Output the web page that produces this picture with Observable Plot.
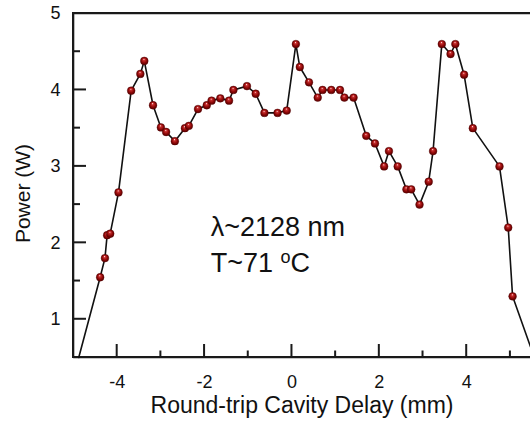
<!DOCTYPE html>
<html>
<head>
<meta charset="utf-8">
<script src="https://cdn.jsdelivr.net/npm/d3@7"></script>
<script src="https://cdn.jsdelivr.net/npm/@observablehq/plot@0.6"></script>
<style>
  html, body { margin: 0; padding: 0; background: #fff; }
  svg { display: block; }
</style>
</head>
<body>
<div id="chart"></div>
<script>
// Measured points: round-trip cavity delay (mm) and output power (W)
const delay = [-4.39, -4.28, -4.23, -4.16, -3.97, -3.68, -3.47, -3.38, -3.18, -3.00, -2.88, -2.68, -2.45, -2.36,
  -2.15, -1.95, -1.84, -1.64, -1.44, -1.34, -1.03, -0.83, -0.63, -0.33, -0.12, 0.09, 0.18, 0.39, 0.59, 0.70,
  0.90, 1.10, 1.20, 1.41, 1.70, 1.90, 2.11, 2.22, 2.42, 2.62, 2.73, 2.92, 3.13, 3.23, 3.43, 3.63, 3.74, 3.94,
  4.14, 4.75, 4.95, 5.05];
const power = [1.55, 1.80, 2.10, 2.12, 2.66, 3.99, 4.21, 4.38, 3.80, 3.51, 3.45, 3.33, 3.50, 3.53,
  3.75, 3.80, 3.86, 3.89, 3.86, 4.00, 4.05, 3.95, 3.70, 3.70, 3.73, 4.60, 4.30, 4.10, 3.90, 4.00,
  4.00, 4.00, 3.90, 3.90, 3.40, 3.30, 3.00, 3.20, 3.00, 2.70, 2.70, 2.50, 2.80, 3.20, 4.60, 4.47, 4.60, 4.20,
  3.50, 3.00, 2.20, 1.30];
// Where the curve leaves the frame at both ends (no markers there)
const edgeDelay = [-4.88, 5.46];
const edgePower = [0.50, 0.64];

const xDomain = [-5, 5.46];
const yDomain = [0.5, 5];
const xMajor = [-4, -2, 0, 2, 4];
const xMinor = [-3, -1, 1, 3, 5];
const yMajor = [1, 2, 3, 4];
const yMinor = [1.5, 2.5, 3.5, 4.5];
const yLabels = [1, 2, 3, 4, 5];

const xTitle = "Round-trip Cavity Delay (mm)";
const yTitle = "Power (W)";
const noteLambda = "λ~2128 nm";
const noteTemp = "T~71 oC";

const points = delay.map((x, i) => ({x, y: power[i]}));
const lineData = [{x: edgeDelay[0], y: edgePower[0]}, ...points, {x: edgeDelay[1], y: edgePower[1]}];

const W = 530, H = 423;
const mL = 73, mR = 0, mT = 13, mB = 66;
const plotW = W - mL - mR, plotH = H - mT - mB;
const pxPerX = plotW / (xDomain[1] - xDomain[0]);
const pxPerY = plotH / (yDomain[1] - yDomain[0]);
const font = "'Liberation Sans', Arial, Helvetica, sans-serif";
const fmt = d => String(d);
const half = 1; // half thickness of frame and ticks, px

// frame sides and ticks as thin filled bars (converted from px to data units)
const hx = half / pxPerX, hy = half / pxPerY;
const bars = [
  // top, left, bottom
  {x1: xDomain[0] - hx, x2: xDomain[1], y1: yDomain[1] - hy, y2: yDomain[1] + hy},
  {x1: xDomain[0] - hx, x2: xDomain[0] + hx, y1: yDomain[0] - hy, y2: yDomain[1] + hy},
  {x1: xDomain[0] - hx, x2: xDomain[1], y1: yDomain[0] - hy, y2: yDomain[0] + hy},
  ...xMajor.map(v => ({x1: v - hx, x2: v + hx, y1: yDomain[0], y2: yDomain[0] + 13 / pxPerY})),
  ...xMinor.map(v => ({x1: v - hx, x2: v + hx, y1: yDomain[0], y2: yDomain[0] + 6.5 / pxPerY})),
  ...yMajor.map(v => ({y1: v - hy, y2: v + hy, x1: xDomain[0], x2: xDomain[0] + 13 / pxPerX})),
  ...yMinor.map(v => ({y1: v - hy, y2: v + hy, x1: xDomain[0], x2: xDomain[0] + 7 / pxPerX}))
];
const frame = [
  {x: xDomain[1], y: yDomain[1]}, {x: xDomain[0], y: yDomain[1]},
  {x: xDomain[0], y: yDomain[0]}, {x: xDomain[1], y: yDomain[0]}
];

const chart = Plot.plot({
  width: W, height: H,
  marginLeft: mL, marginRight: mR, marginTop: mT, marginBottom: mB,
  style: {fontFamily: font},
  x: {domain: xDomain},
  y: {domain: yDomain},
  marks: [
    Plot.rect(bars, {x1: "x1", x2: "x2", y1: "y1", y2: "y2", fill: "#1a1a1a"}),
    Plot.line(frame, {x: "x", y: "y", stroke: "#1a1a1a", strokeWidth: 1.6}),
    Plot.axisX(xMajor, {tickSize: 0, tickPadding: 18, fontSize: 18, label: null, fill: "#111", tickFormat: fmt}),
    Plot.axisY(yLabels, {tickSize: 0, tickPadding: 13, fontSize: 18, label: null, fill: "#111", tickFormat: fmt}),
    Plot.line(lineData, {x: "x", y: "y", stroke: "#111", strokeWidth: 1.6}),
    Plot.dot(points, {x: "x", y: "y", r: 3.9, fill: "url(#ball)", stroke: "#5a0000", strokeWidth: 0.4}),
    Plot.text([xTitle], {frameAnchor: "bottom", dy: 55, lineAnchor: "bottom", textAnchor: "middle", fontSize: 23, fill: "#111"}),
    Plot.text([yTitle], {frameAnchor: "left", textAnchor: "middle", dx: -50, dy: 8, rotate: -90, fontSize: 21, fill: "#111"}),
    Plot.text([{x: -1.86, y: 2.095, t: noteLambda}], {x: "x", y: "y", text: "t", textAnchor: "start", lineAnchor: "bottom", fontSize: 27, fill: "#111"}),
    Plot.text([{x: -1.86, y: 1.616, t: noteTemp}], {x: "x", y: "y", text: "t", textAnchor: "start", lineAnchor: "bottom", fontSize: 27, fill: "#111"})
  ]
});

const svg = d3.select(chart);

// sphere-like marker shading
const defs = svg.insert("defs", ":first-child");
const grad = defs.append("radialGradient").attr("id", "ball")
  .attr("cx", "50%").attr("cy", "50%").attr("r", "55%").attr("fx", "45%").attr("fy", "28%");
grad.append("stop").attr("offset", "0%").attr("stop-color", "#ffe0e0");
grad.append("stop").attr("offset", "22%").attr("stop-color", "#c83030");
grad.append("stop").attr("offset", "60%").attr("stop-color", "#900808");
grad.append("stop").attr("offset", "100%").attr("stop-color", "#4a0000");

// superscript degree "o"
svg.selectAll("text").each(function () {
  if (this.textContent !== noteTemp || this.children.length) return;
  const t = d3.select(this);
  const idx = noteTemp.indexOf("oC");
  t.text(null);
  t.append("tspan").text(noteTemp.slice(0, idx));
  t.append("tspan").attr("font-size", 18).attr("dy", "-0.5em").text("o");
  t.append("tspan").attr("font-size", 27).attr("dy", "0.333em").text("C");
});

document.getElementById("chart").appendChild(chart);
</script>
</body>
</html>
